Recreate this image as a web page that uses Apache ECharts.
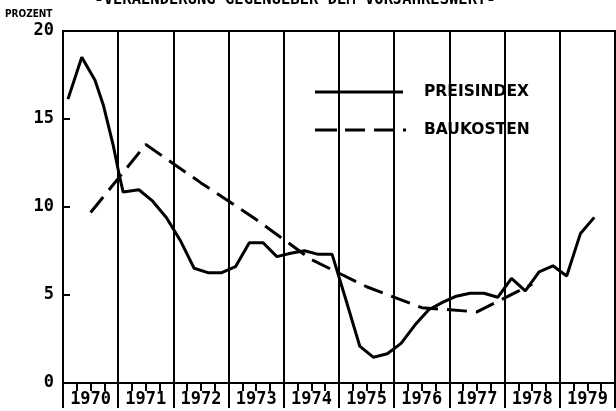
<!DOCTYPE html>
<html><head><meta charset="utf-8">
<script src="https://cdn.jsdelivr.net/npm/echarts@6/dist/echarts.min.js"></script>
<style>html,body{margin:0;padding:0;background:#fff}#c{width:616px;height:411px}</style>
</head><body><div id="c"></div>
<script>
const years = ['1970','1971','1972','1973','1974','1975','1976','1977','1978','1979'];
const yTicks = [0, 5, 10, 15, 20];
const titleText = '-VERAENDERUNG GEGENUEBER DEM VORJAHRESWERT-';
const yUnit = 'PROZENT';
const legendNames = ['PREISINDEX', 'BAUKOSTEN'];

// Preisindex: time in decimal years, values in percent
const preisT = [1970.09, 1970.34, 1970.58, 1970.73, 1970.91, 1971.02, 1971.09, 1971.375, 1971.625, 1971.875,
  1972.125, 1972.375, 1972.625, 1972.875, 1973.125, 1973.375, 1973.625, 1973.875,
  1974.125, 1974.375, 1974.625, 1974.875, 1975.125, 1975.375, 1975.625, 1975.875,
  1976.125, 1976.375, 1976.625, 1976.875, 1977.125, 1977.375, 1977.625, 1977.875,
  1978.125, 1978.375, 1978.625, 1978.875, 1979.125, 1979.375, 1979.625];
const preisV = [16.13, 18.51, 17.2, 15.8, 13.5, 11.8, 10.85, 10.98, 10.33, 9.39,
  8.1, 6.52, 6.27, 6.27, 6.61, 7.97, 7.97, 7.18,
  7.37, 7.51, 7.31, 7.31, 4.73, 2.1, 1.46, 1.66,
  2.25, 3.29, 4.16, 4.58, 4.93, 5.1, 5.1, 4.87,
  5.95, 5.23, 6.32, 6.66, 6.08, 8.5, 9.41];

// Baukosten: annual values (mid-year)
const bauT = [1970.5, 1971.5, 1972.5, 1973.5, 1974.5, 1975.5, 1976.5, 1977.5, 1978.5];
const bauV = [9.69, 13.55, 11.37, 9.29, 7.01, 5.47, 4.28, 4.04, 5.62];

const FONT = 'DejaVu Sans Mono';
const dash = [20, 9];

const chart = echarts.init(document.getElementById('c'), null, {renderer: 'canvas'});
chart.setOption({
  backgroundColor: '#fff',
  animation: false,
  grid: {left: 63, right: 1, top: 31, bottom: 28, show: true, borderColor: '#000', borderWidth: 2, outerBoundsMode: 'none'},
  xAxis: [{
    type: 'value', min: Number(years[0]), max: Number(years[years.length - 1]) + 1, interval: 1,
    axisLine: {show: true, lineStyle: {color: '#000', width: 2}},
    axisTick: {show: true, length: 25, inside: false, lineStyle: {color: '#000', width: 2}},
    minorTick: {show: true, splitNumber: 4, length: 8, lineStyle: {color: '#000', width: 2}},
    splitLine: {show: true, lineStyle: {color: '#000', width: 2}},
    axisLabel: {show: false}
  }, {
    type: 'category', data: years, boundaryGap: true, position: 'bottom',
    axisLine: {show: false}, axisTick: {show: false}, splitLine: {show: false},
    axisLabel: {show: true, margin: 8, color: '#000', fontFamily: FONT, fontWeight: 'bold', fontSize: 17}
  }],
  yAxis: {
    type: 'value', min: yTicks[0], max: yTicks[yTicks.length - 1], interval: yTicks[1] - yTicks[0],
    axisLine: {show: true, lineStyle: {color: '#000', width: 2}},
    axisTick: {show: true, inside: true, length: 7, lineStyle: {color: '#000', width: 2}},
    splitLine: {show: false},
    axisLabel: {margin: 9, color: '#000', fontFamily: FONT, fontWeight: 'bold', fontSize: 17}
  },
  series: [{
    name: legendNames[0], type: 'line', xAxisIndex: 0, symbol: 'none',
    data: preisT.map((t, i) => [t, preisV[i]]),
    lineStyle: {color: '#000', width: 3}
  }, {
    name: legendNames[1], type: 'line', xAxisIndex: 0, symbol: 'none',
    data: bauT.map((t, i) => [t, bauV[i]]),
    lineStyle: {color: '#000', width: 3, type: dash}
  }],
  graphic: [
    {type: 'text', x: 295, y: 8, style: {text: titleText, fill: '#000', font: 'bold 15.5px "DejaVu Sans Mono"', textAlign: 'center', textVerticalAlign: 'bottom'}},
    {type: 'text', x: 5, y: 14, style: {text: yUnit, fill: '#000', font: 'bold 10px "DejaVu Sans Condensed"', textAlign: 'left', textVerticalAlign: 'middle'}},
    {type: 'line', shape: {x1: 315, y1: 92, x2: 403, y2: 92}, style: {stroke: '#000', lineWidth: 3}},
    {type: 'text', x: 424, y: 92, style: {text: legendNames[0], fill: '#000', font: 'bold 15.5px "DejaVu Sans"', textAlign: 'left', textVerticalAlign: 'middle'}},
    {type: 'line', shape: {x1: 315, y1: 130, x2: 407, y2: 130}, style: {stroke: '#000', lineWidth: 3, lineDash: [22, 8, 20, 9, 20, 9, 3, 100]}},
    {type: 'text', x: 424, y: 130, style: {text: legendNames[1], fill: '#000', font: 'bold 15.5px "DejaVu Sans"', textAlign: 'left', textVerticalAlign: 'middle'}}
  ]
});
</script>
</body></html>
